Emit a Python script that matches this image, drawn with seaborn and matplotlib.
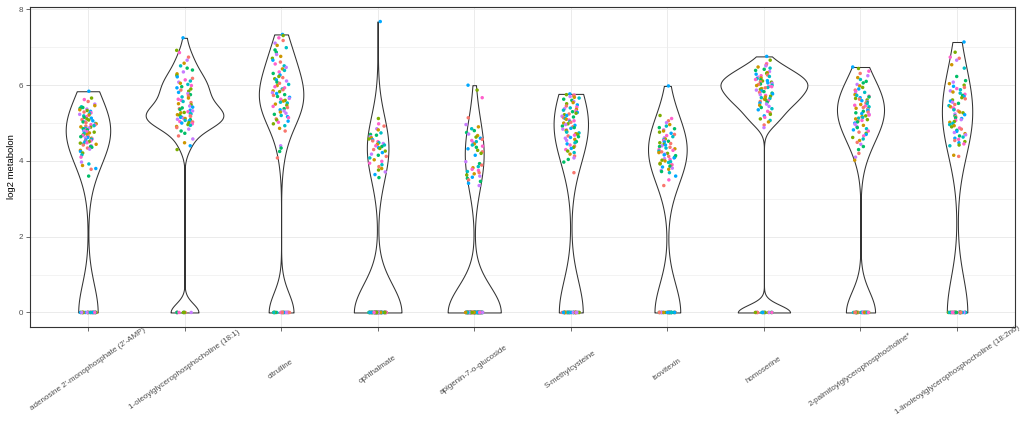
import numpy as np
import pandas as pd
import matplotlib
matplotlib.use("Agg")
import matplotlib.pyplot as plt
from matplotlib.ticker import MultipleLocator
import seaborn as sns

# ---------------- data ----------------
metabolites = [
    "adenosine 2'-monophosphate (2'-AMP)",
    "1-oleoylglycerophosphocholine (18:1)",
    "citrulline",
    "ophthalmate",
    "apigenin-7-o-glucoside",
    "S-methylcysteine",
    "isovitexin",
    "homoserine",
    "2-palmitoylglycerophosphocholine*",
    "1-linoleoylglycerophosphocholine (18:2n6)",
]

vals_adenosine_amp = [
    5.84, 5.66, 5.62, 5.57, 5.50, 5.46, 5.43, 5.41, 5.39, 5.37,
    5.35, 5.33, 5.31, 5.29, 5.27, 5.25, 5.23, 5.21, 5.19, 5.17,
    5.15, 5.13, 5.11, 5.09, 5.08, 5.06, 5.04, 5.03, 5.01, 4.99,
    4.98, 4.96, 4.95, 4.93, 4.92, 4.90, 4.89, 4.87, 4.86, 4.85,
    4.83, 4.82, 4.80, 4.79, 4.77, 4.76, 4.74, 4.73, 4.71, 4.70,
    4.68, 4.67, 4.65, 4.64, 4.62, 4.61, 4.60, 4.58, 4.57, 4.56,
    4.55, 4.53, 4.52, 4.51, 4.50, 4.48, 4.47, 4.45, 4.44, 4.42,
    4.40, 4.38, 4.36, 4.34, 4.31, 4.28, 4.25, 4.21, 4.16, 4.10,
    3.97, 3.92, 3.88, 3.80, 3.78, 3.60]
vals_oleoyl_gpc = [
    7.25, 6.92, 6.86, 6.74, 6.66, 6.58, 6.51, 6.45, 6.40, 6.35,
    6.30, 6.26, 6.22, 6.18, 6.14, 6.11, 6.08, 6.05, 6.02, 5.99,
    5.96, 5.93, 5.90, 5.87, 5.84, 5.81, 5.78, 5.75, 5.72, 5.69,
    5.66, 5.63, 5.60, 5.57, 5.54, 5.51, 5.48, 5.45, 5.42, 5.40,
    5.38, 5.36, 5.34, 5.32, 5.30, 5.28, 5.27, 5.25, 5.24, 5.22,
    5.21, 5.19, 5.18, 5.16, 5.15, 5.13, 5.12, 5.10, 5.09, 5.07,
    5.06, 5.04, 5.03, 5.01, 5.00, 4.98, 4.96, 4.94, 4.91, 4.88,
    4.84, 4.79, 4.73, 4.66, 4.58, 4.48, 4.40, 4.30]
vals_citrulline = [
    7.34, 7.31, 7.25, 7.18, 7.11, 7.05, 6.99, 6.93, 6.87, 6.81,
    6.76, 6.71, 6.66, 6.61, 6.56, 6.51, 6.47, 6.43, 6.39, 6.35,
    6.31, 6.27, 6.23, 6.20, 6.17, 6.14, 6.11, 6.08, 6.05, 6.02,
    5.99, 5.96, 5.93, 5.90, 5.88, 5.85, 5.83, 5.80, 5.78, 5.75,
    5.73, 5.70, 5.68, 5.65, 5.63, 5.60, 5.58, 5.55, 5.53, 5.50,
    5.47, 5.44, 5.41, 5.38, 5.35, 5.32, 5.29, 5.26, 5.23, 5.20,
    5.17, 5.14, 5.11, 5.08, 5.05, 5.02, 4.98, 4.93, 4.86, 4.79,
    4.40, 4.34, 4.25, 4.08]
vals_ophthalmate = [
    7.68, 5.12, 4.98, 4.92, 4.85, 4.82, 4.74, 4.70, 4.68, 4.64,
    4.61, 4.58, 4.56, 4.53, 4.51, 4.48, 4.46, 4.44, 4.42, 4.40,
    4.38, 4.35, 4.33, 4.30, 4.26, 4.22, 4.18, 4.15, 4.12, 4.08,
    4.03, 3.99, 3.94, 3.90, 3.85, 3.80, 3.76, 3.71, 3.64, 3.56]
vals_apigenin = [
    6.00, 5.87, 5.67, 5.14, 4.96, 4.90, 4.85, 4.80, 4.75, 4.71,
    4.67, 4.63, 4.60, 4.57, 4.54, 4.51, 4.48, 4.45, 4.42, 4.39,
    4.36, 4.32, 4.28, 4.24, 4.20, 4.15, 3.98, 3.93, 3.89, 3.85,
    3.82, 3.78, 3.75, 3.72, 3.69, 3.66, 3.63, 3.60, 3.57, 3.54,
    3.50, 3.46, 3.41, 3.35]
vals_s_methylcysteine = [
    5.77, 5.75, 5.74, 5.72, 5.70, 5.68, 5.66, 5.63, 5.60, 5.57,
    5.54, 5.51, 5.48, 5.45, 5.42, 5.40, 5.38, 5.36, 5.34, 5.32,
    5.30, 5.28, 5.26, 5.24, 5.22, 5.20, 5.18, 5.16, 5.14, 5.12,
    5.10, 5.08, 5.06, 5.04, 5.02, 5.00, 4.98, 4.96, 4.94, 4.92,
    4.90, 4.88, 4.86, 4.84, 4.82, 4.80, 4.78, 4.76, 4.74, 4.72,
    4.70, 4.68, 4.66, 4.64, 4.62, 4.60, 4.57, 4.54, 4.51, 4.48,
    4.45, 4.42, 4.39, 4.36, 4.33, 4.30, 4.26, 4.22, 4.18, 4.13,
    4.08, 4.04, 3.97, 3.69]
vals_isovitexin = [
    5.98, 5.20, 5.12, 5.06, 5.01, 4.96, 4.92, 4.88, 4.85, 4.82,
    4.79, 4.76, 4.73, 4.70, 4.67, 4.64, 4.61, 4.58, 4.56, 4.54,
    4.52, 4.50, 4.48, 4.46, 4.44, 4.42, 4.40, 4.38, 4.36, 4.34,
    4.32, 4.30, 4.28, 4.26, 4.24, 4.22, 4.20, 4.18, 4.16, 4.14,
    4.12, 4.10, 4.08, 4.06, 4.04, 4.02, 4.00, 3.98, 3.96, 3.94,
    3.92, 3.90, 3.88, 3.86, 3.84, 3.81, 3.78, 3.75, 3.72, 3.69,
    3.60, 3.50, 3.35]
vals_homoserine = [
    6.76, 6.66, 6.57, 6.54, 6.51, 6.48, 6.45, 6.42, 6.39, 6.36,
    6.33, 6.31, 6.29, 6.27, 6.25, 6.23, 6.21, 6.19, 6.17, 6.15,
    6.14, 6.12, 6.11, 6.09, 6.08, 6.06, 6.05, 6.03, 6.02, 6.00,
    5.99, 5.97, 5.96, 5.94, 5.93, 5.91, 5.89, 5.87, 5.85, 5.83,
    5.81, 5.79, 5.77, 5.75, 5.73, 5.71, 5.69, 5.67, 5.65, 5.63,
    5.61, 5.59, 5.57, 5.55, 5.53, 5.50, 5.47, 5.44, 5.41, 5.38,
    5.35, 5.31, 5.27, 5.23, 5.19, 5.15, 5.11, 5.07, 5.03, 4.95,
    4.88]
vals_palmitoyl_gpc = [
    6.48, 6.44, 6.37, 6.31, 6.25, 6.20, 6.15, 6.10, 6.06, 6.02,
    5.98, 5.94, 5.90, 5.87, 5.84, 5.81, 5.78, 5.75, 5.73, 5.71,
    5.69, 5.67, 5.65, 5.63, 5.61, 5.59, 5.57, 5.55, 5.53, 5.51,
    5.49, 5.47, 5.45, 5.43, 5.41, 5.39, 5.37, 5.35, 5.33, 5.31,
    5.29, 5.27, 5.25, 5.23, 5.21, 5.19, 5.17, 5.15, 5.13, 5.11,
    5.09, 5.07, 5.05, 5.03, 5.00, 4.97, 4.94, 4.91, 4.88, 4.85,
    4.82, 4.79, 4.76, 4.73, 4.70, 4.66, 4.62, 4.58, 4.54, 4.49,
    4.44, 4.38, 4.30, 4.20, 4.10, 4.02]
vals_linoleoyl_gpc = [
    7.14, 6.87, 6.74, 6.71, 6.66, 6.54, 6.45, 6.23, 6.12, 6.08,
    6.04, 6.00, 5.97, 5.94, 5.91, 5.88, 5.85, 5.82, 5.79, 5.76,
    5.73, 5.70, 5.67, 5.64, 5.61, 5.58, 5.55, 5.52, 5.49, 5.46,
    5.43, 5.40, 5.37, 5.35, 5.32, 5.29, 5.27, 5.24, 5.22, 5.19,
    5.17, 5.14, 5.12, 5.09, 5.07, 5.04, 5.02, 4.99, 4.96, 4.93,
    4.90, 4.87, 4.84, 4.81, 4.78, 4.75, 4.72, 4.69, 4.66, 4.63,
    4.60, 4.57, 4.54, 4.51, 4.48, 4.45, 4.42, 4.40, 4.15, 4.12]

# number of samples with value 0 (not detected) per metabolite
zero_counts = [32, 11, 23, 76, 92, 44, 36, 17, 32, 38]

# sample group codes (colour) in sample order
group_codes = ("5270614336125074614735202563041774012653035672144127035616345702"
               "5724106330615247641503722173604505462731472035161257463063"
               "7035124634627150260145375173642043152706")
group_names = ["G1", "G2", "G3", "G4", "G5", "G6", "G7", "G8"]
group_colors = ["#F8766D", "#CD9600", "#7CAE00", "#00BE67",
                "#00BFC4", "#00A9FF", "#C77CFF", "#FF61CC"]

nonzero_values = [vals_adenosine_amp, vals_oleoyl_gpc, vals_citrulline,
                  vals_ophthalmate, vals_apigenin, vals_s_methylcysteine,
                  vals_isovitexin, vals_homoserine, vals_palmitoyl_gpc,
                  vals_linoleoyl_gpc]

# kernel bandwidths fixed by hand where R's default rule is not used
bw_override = {"1-oleoylglycerophosphocholine (18:1)": 0.24,
               "homoserine": 0.2,
               "2-palmitoylglycerophosphocholine*": 0.55}

rows = []
for name, vals, nz in zip(metabolites, nonzero_values, zero_counts):
    ys = list(vals) + [0.0] * nz
    for y, c in zip(ys, group_codes[:len(ys)]):
        rows.append((name, y, group_names[int(c)]))
df = pd.DataFrame(rows, columns=["metabolite", "value", "group"])

max_to_name = {round(max(v), 2): n for n, v in zip(metabolites, nonzero_values)}


def violin_bw(kde):
    """R's default bandwidth (bw.nrd0) as a scipy factor, or a fixed one."""
    x = np.asarray(kde.dataset).ravel()
    hi = np.std(x, ddof=1)
    name = max_to_name.get(round(float(x.max()), 2))
    if name in bw_override:
        return bw_override[name] / hi
    q75, q25 = np.percentile(x, [75, 25])
    lo = min(hi, (q75 - q25) / 1.34)
    if lo <= 0:
        lo = hi
    return 0.9 * lo * len(x) ** -0.2 / hi


# ---------------- plot ----------------
plt.rcParams["font.family"] = ["Liberation Sans", "DejaVu Sans"]
np.random.seed(3)

fig = plt.figure(figsize=(10.22, 4.21), dpi=100)
ax = fig.add_axes([30 / 1022, 1 - 327 / 421, 985 / 1022, 320 / 421])

sns.violinplot(data=df, x="metabolite", y="value", order=metabolites,
               cut=0, inner=None, density_norm="area", width=0.9,
               color="white", linecolor="#333333", linewidth=0.75,
               bw_method=violin_bw, gridsize=512, saturation=1, ax=ax)
sns.stripplot(data=df, x="metabolite", y="value", order=metabolites,
              hue="group", hue_order=group_names, palette=group_colors,
              jitter=0.09, size=2.5, linewidth=0, legend=False,
              zorder=3, ax=ax)

ax.set_xlim(-0.6, 9.6)
ax.set_ylim(-0.384, 8.064)
ax.yaxis.set_major_locator(MultipleLocator(2))
ax.yaxis.set_minor_locator(MultipleLocator(1))
ax.set_axisbelow(True)
ax.grid(which="major", color="#EBEBEB", linewidth=0.7)
ax.grid(which="minor", axis="y", color="#EBEBEB", linewidth=0.4)
ax.tick_params(which="minor", length=0)
for s in ax.spines.values():
    s.set_color("#333333")
    s.set_linewidth(0.8)

ax.tick_params(axis="both", which="major", length=2.75, width=0.5,
               color="#333333", labelsize=5.8, labelcolor="#4D4D4D")
ax.set_xticks(range(len(metabolites)))
ax.set_xticklabels(metabolites, rotation=35, ha="center", va="center",
                   rotation_mode="anchor")
ax.tick_params(axis="x", pad=28)
ax.tick_params(axis="y", pad=2)

ax.set_xlabel("")
ax.set_ylabel("log2 metabolon", fontsize=6.8, color="black")
ax.yaxis.set_label_coords(-0.0145, 0.5)

fig.savefig("out.png", dpi=100)
